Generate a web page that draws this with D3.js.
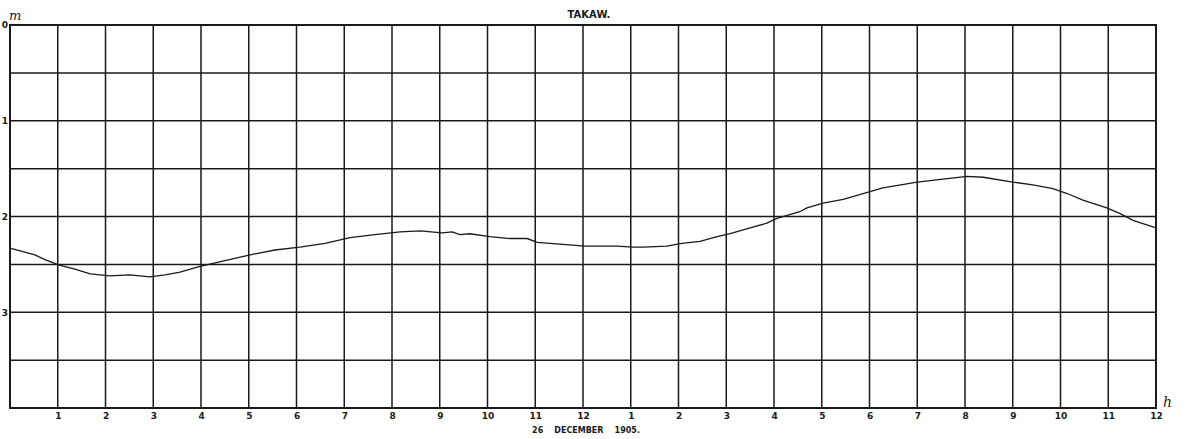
<!DOCTYPE html>
<html>
<head>
<meta charset="utf-8">
<script src="https://cdn.jsdelivr.net/npm/d3@7"></script>
<style>
  body { margin: 0; background: #fff; }
  svg { display: block; }
</style>
</head>
<body>
<script>
// hours after midnight, 26 Dec 1905
var hours = [0, 0.52, 0.73, 1.05, 1.36, 1.68, 2.09, 2.51, 2.93, 3.25, 3.56, 3.98, 4.5, 5.03, 5.55, 6.07,
    6.6, 7.12, 7.64, 8.17, 8.59, 9.05, 9.26, 9.42, 9.63, 10.05, 10.47, 10.83, 11.04, 11.31, 12.04, 12.71,
    13.05, 13.26, 13.76, 14.07, 14.45, 14.81, 15.08, 15.5, 15.85, 16.06, 16.54, 16.69, 17.03, 17.45,
    18.01, 18.28, 19.0, 19.54, 20.04, 20.38, 21.0, 21.42, 21.84, 22.14, 22.47, 22.97, 23.25, 23.52, 24];
// gauge reading in metres
var level = [2.33, 2.40, 2.45, 2.51, 2.55, 2.60, 2.62, 2.61, 2.63, 2.61, 2.58, 2.52, 2.46, 2.40, 2.35, 2.32,
    2.28, 2.22, 2.19, 2.16, 2.15, 2.17, 2.16, 2.19, 2.18, 2.21, 2.23, 2.23, 2.27, 2.28, 2.31, 2.31,
    2.32, 2.32, 2.31, 2.28, 2.26, 2.21, 2.18, 2.12, 2.07, 2.02, 1.95, 1.91, 1.86, 1.82,
    1.74, 1.70, 1.64, 1.61, 1.58, 1.59, 1.64, 1.67, 1.71, 1.76, 1.83, 1.91, 1.97, 2.04, 2.12];
var hourTicks = d3.range(1, 25);
var hourLabels = [1, 2, 3, 4, 5, 6, 7, 8, 9, 10, 11, 12, 1, 2, 3, 4, 5, 6, 7, 8, 9, 10, 11, 12];
var metreTicks = [0, 1, 2, 3];
var gridHalfMetres = [0.5, 1, 1.5, 2, 2.5, 3, 3.5];

var w = 1191, h = 439;
var x = d3.scaleLinear().domain([0, 24]).range([10, 1156]);
var y = d3.scaleLinear().domain([0, 4]).range([25, 408]);

var svg = d3.select("body").append("svg")
    .attr("width", w)
    .attr("height", h);

var ink = "#1a1a1a";

// grid
svg.append("g")
    .selectAll("line.v")
    .data(hourTicks.slice(0, 23))
    .enter().append("line")
    .attr("x1", function (d) { return x(d); })
    .attr("x2", function (d) { return x(d); })
    .attr("y1", y(0))
    .attr("y2", y(4))
    .attr("stroke", ink)
    .attr("stroke-width", 1.5);

svg.append("g")
    .selectAll("line.h")
    .data(gridHalfMetres)
    .enter().append("line")
    .attr("x1", x(0))
    .attr("x2", x(24))
    .attr("y1", function (d) { return y(d); })
    .attr("y2", function (d) { return y(d); })
    .attr("stroke", ink)
    .attr("stroke-width", 1.5);

svg.append("rect")
    .attr("x", x(0))
    .attr("y", y(0))
    .attr("width", x(24) - x(0))
    .attr("height", y(4) - y(0))
    .attr("fill", "none")
    .attr("stroke", ink)
    .attr("stroke-width", 2);

// axes (labels only)
var xAxis = d3.axisBottom(x)
    .tickValues(hourTicks)
    .tickSize(0)
    .tickPadding(5)
    .tickFormat(function (d, i) { return hourLabels[i]; });

svg.append("g")
    .attr("transform", "translate(0," + y(4) + ")")
    .call(xAxis)
    .call(function (g) { g.select(".domain").remove(); })
    .selectAll("text")
    .attr("font-family", "DejaVu Sans")
    .attr("font-weight", "bold")
    .attr("font-size", 9)
    .attr("fill", ink);

var yAxis = d3.axisLeft(y)
    .tickValues(metreTicks)
    .tickSize(0)
    .tickPadding(2)
    .tickFormat(d3.format("d"));

svg.append("g")
    .attr("transform", "translate(" + x(0) + ",0)")
    .call(yAxis)
    .call(function (g) { g.select(".domain").remove(); })
    .selectAll("text")
    .attr("font-family", "DejaVu Sans")
    .attr("font-weight", "bold")
    .attr("font-size", 9)
    .attr("fill", ink);

// unit labels
svg.append("text")
    .attr("x", 9)
    .attr("y", 20)
    .attr("font-family", "DejaVu Serif")
    .attr("font-style", "italic")
    .attr("font-size", 13)
    .attr("fill", ink)
    .text("m");

svg.append("text")
    .attr("x", 1163)
    .attr("y", 407)
    .attr("font-family", "DejaVu Serif")
    .attr("font-style", "italic")
    .attr("font-size", 14)
    .attr("fill", ink)
    .text("h");

// title and date
svg.append("text")
    .attr("x", 589)
    .attr("y", 18)
    .attr("text-anchor", "middle")
    .attr("font-family", "DejaVu Sans")
    .attr("font-weight", "bold")
    .attr("font-size", 10)
    .attr("fill", ink)
    .text("TAKAW.");

svg.append("text")
    .attr("x", 586)
    .attr("y", 433)
    .attr("text-anchor", "middle")
    .attr("font-family", "DejaVu Sans")
    .attr("font-weight", "bold")
    .attr("font-size", 8)
    .attr("fill", ink)
    .attr("xml:space", "preserve")
    .text("26    DECEMBER    1905.");

// tide curve
var line = d3.line()
    .x(function (d) { return x(d[0]); })
    .y(function (d) { return y(d[1]); });

svg.append("path")
    .datum(d3.zip(hours, level))
    .attr("d", line)
    .attr("fill", "none")
    .attr("stroke", ink)
    .attr("stroke-width", 1.3);
</script>
</body>
</html>
